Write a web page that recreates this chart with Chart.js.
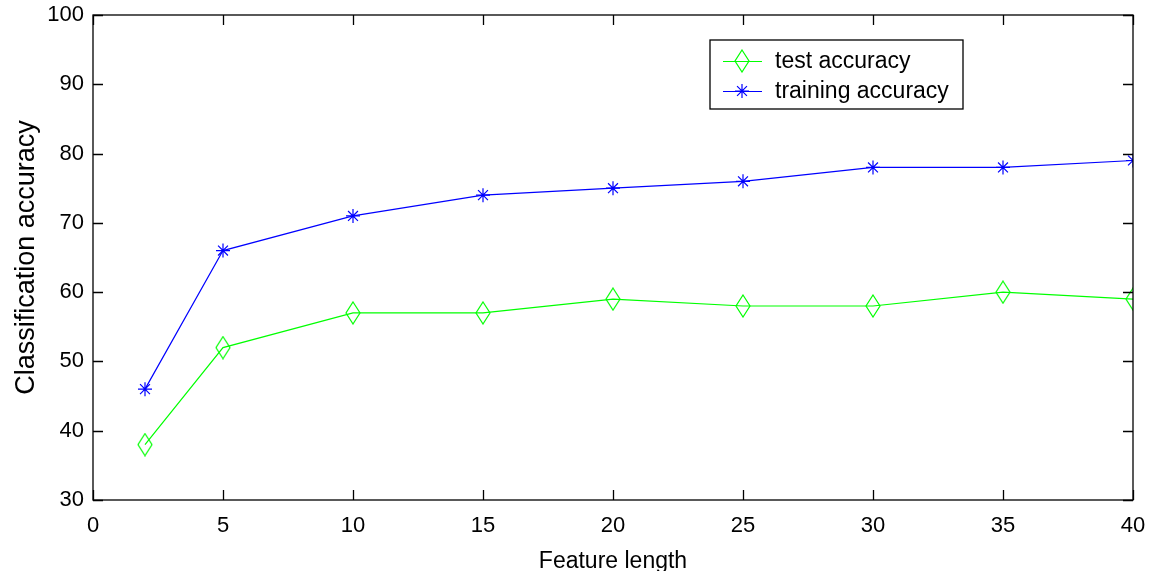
<!DOCTYPE html>
<html>
<head>
<meta charset="utf-8">
<script src="https://cdn.jsdelivr.net/npm/chart.js@4.4.1/dist/chart.umd.min.js"></script>
<style>
  html, body { margin: 0; padding: 0; background: #fff; overflow: hidden; }
  #wrap { width: 1151px; height: 571px; overflow: hidden; }
</style>
</head>
<body>
<div id="wrap"><canvas id="chart" width="1151" height="575"></canvas></div>
<script>
// ── Data ──────────────────────────────────────────────────────────────────────
const featureLength = [2, 5, 10, 15, 20, 25, 30, 35, 40];
const testAccuracy = [38, 52, 57, 57, 59, 58, 58, 60, 59];
const trainingAccuracy = [46, 66, 71, 74, 75, 76, 78, 78, 79];
const xTickValues = [0, 5, 10, 15, 20, 25, 30, 35, 40];
const yTickValues = [30, 40, 50, 60, 70, 80, 90, 100];

const FONT = "'Liberation Sans', Arial, Helvetica, sans-serif";
const GREEN = "#00ff00";
const BLUE = "#0000ff";

// ── Diamond marker (MATLAB 'd') ───────────────────────────────────────────────
function makeDiamond(w, h, color) {
    const c = document.createElement("canvas");
    c.width = w;
    c.height = h;
    const g = c.getContext("2d");
    g.strokeStyle = color;
    g.lineWidth = 1.2;
    g.beginPath();
    g.moveTo(w / 2, 1);
    g.lineTo(w - 1, h / 2);
    g.lineTo(w / 2, h - 1);
    g.lineTo(1, h / 2);
    g.closePath();
    g.stroke();
    return c;
}
const diamond = makeDiamond(16, 24, GREEN);

const toPoints = (ys) => featureLength.map((x, i) => ({ x, y: ys[i] }));

// ── Frame, inward ticks and legend ────────────────────────────────────────────
const matlabFrame = {
    id: "matlabFrame",
    afterDatasetsDraw(chart) {
        const { ctx, chartArea: a, scales } = chart;
        const tl = 10;
        ctx.save();
        ctx.strokeStyle = "#000";
        ctx.lineWidth = 1.3;
        ctx.strokeRect(a.left, a.top, a.right - a.left, a.bottom - a.top);
        ctx.beginPath();
        scales.x.ticks.forEach((t) => {
            const px = Math.round(scales.x.getPixelForValue(t.value)) + 0.5;
            ctx.moveTo(px, a.bottom);
            ctx.lineTo(px, a.bottom - tl);
            ctx.moveTo(px, a.top);
            ctx.lineTo(px, a.top + tl);
        });
        scales.y.ticks.forEach((t) => {
            const py = Math.round(scales.y.getPixelForValue(t.value)) + 0.5;
            ctx.moveTo(a.left, py);
            ctx.lineTo(a.left + tl, py);
            ctx.moveTo(a.right, py);
            ctx.lineTo(a.right - tl, py);
        });
        ctx.stroke();

        // legend box
        const bx = 710, by = 40, bw = 253, bh = 69;
        ctx.fillStyle = "#fff";
        ctx.fillRect(bx, by, bw, bh);
        ctx.lineWidth = 1.3;
        ctx.strokeStyle = "#000";
        ctx.strokeRect(bx, by, bw, bh);
        const rows = [61, 91];
        chart.data.datasets.forEach((ds, i) => {
            const y = rows[i];
            ctx.strokeStyle = ds.borderColor;
            ctx.lineWidth = 1.2;
            ctx.beginPath();
            ctx.moveTo(723, y + 0.5);
            ctx.lineTo(762, y + 0.5);
            ctx.stroke();
            if (ds.pointStyle === "star") {
                const r = 7;
                ctx.beginPath();
                for (let k = 0; k < 4; k++) {
                    const ang = k * Math.PI / 4;
                    ctx.moveTo(742 - r * Math.cos(ang), y - r * Math.sin(ang));
                    ctx.lineTo(742 + r * Math.cos(ang), y + r * Math.sin(ang));
                }
                ctx.stroke();
            } else {
                ctx.drawImage(diamond, 742 - diamond.width / 2, y - diamond.height / 2);
            }
            ctx.fillStyle = "#000";
            ctx.font = `23px ${FONT}`;
            ctx.textBaseline = "middle";
            ctx.textAlign = "left";
            ctx.fillText(ds.label, 775, y + 1);
        });
        ctx.restore();
    },
};

// ── Chart ─────────────────────────────────────────────────────────────────────
new Chart(document.getElementById("chart").getContext("2d"), {
    type: "scatter",
    data: {
        datasets: [
            {
                label: "test accuracy",
                data: toPoints(testAccuracy),
                showLine: true,
                borderColor: GREEN,
                backgroundColor: GREEN,
                borderWidth: 1.2,
                pointStyle: diamond,
                pointRadius: 10,
                tension: 0,
            },
            {
                label: "training accuracy",
                data: toPoints(trainingAccuracy),
                showLine: true,
                borderColor: BLUE,
                backgroundColor: BLUE,
                borderWidth: 1.2,
                pointStyle: "star",
                pointRadius: 7,
                pointBorderWidth: 1.2,
                tension: 0,
            },
        ],
    },
    options: {
        responsive: false,
        animation: false,
        layout: { padding: { left: 0, right: 18, top: 15, bottom: 0 } },
        plugins: {
            legend: { display: false },
            tooltip: { enabled: false },
        },
        scales: {
            x: {
                type: "linear",
                min: 0,
                max: 40,
                afterBuildTicks: (s) => { s.ticks = xTickValues.map((v) => ({ value: v })); },
                afterFit: (s) => {
                    s.height = 75;
                    s.paddingLeft = 0;
                    s.paddingRight = 0;
                },
                grid: { display: false, drawTicks: false },
                border: { display: false },
                ticks: { color: "#000", font: { family: FONT, size: 22 }, padding: 13, maxRotation: 0 },
                title: {
                    display: true,
                    text: "Feature length",
                    color: "#000",
                    font: { family: FONT, size: 23 },
                    padding: { top: 4, bottom: 0 },
                },
            },
            y: {
                min: 30,
                max: 100,
                afterBuildTicks: (s) => { s.ticks = yTickValues.map((v) => ({ value: v })); },
                afterFit: (s) => {
                    s.width = 93;
                    s.paddingTop = 0;
                    s.paddingBottom = 0;
                },
                grid: { display: false, drawTicks: false },
                border: { display: false },
                ticks: { color: "#000", font: { family: FONT, size: 22 }, padding: 9 },
                title: {
                    display: true,
                    text: "Classification accuracy",
                    color: "#000",
                    font: { family: FONT, size: 27 },
                    padding: { top: 10, bottom: 0 },
                },
            },
        },
    },
    plugins: [matlabFrame],
});
</script>
</body>
</html>
